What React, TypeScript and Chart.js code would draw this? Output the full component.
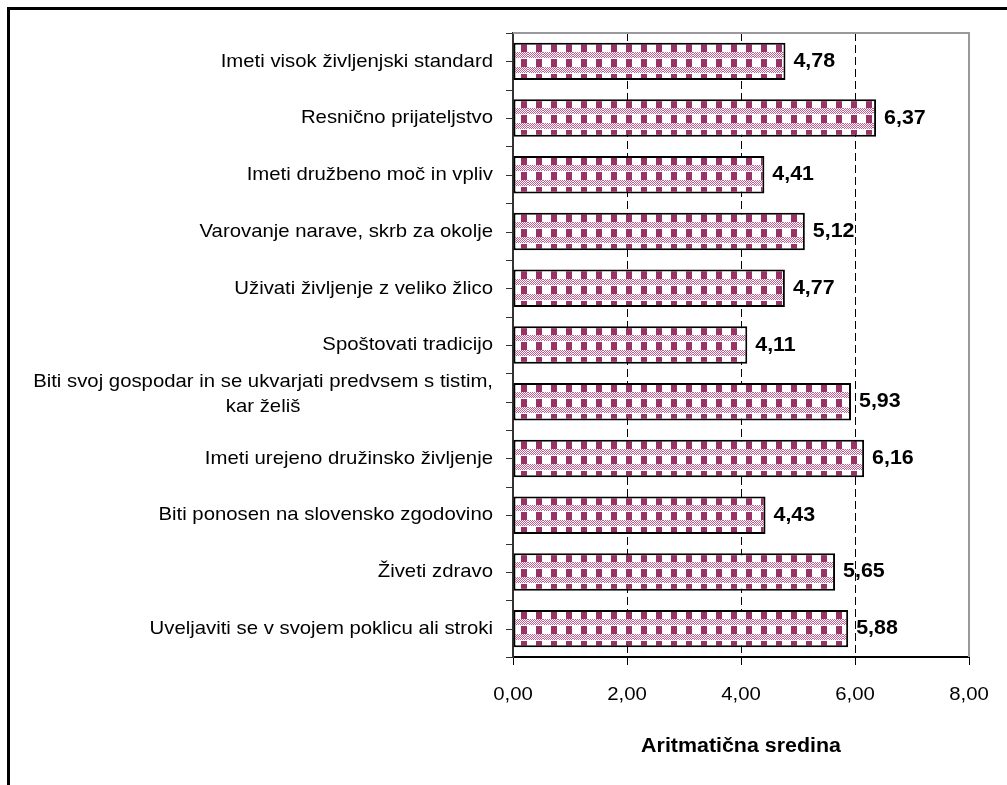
import React, { useEffect, useRef } from "react";
import { Chart, registerables } from "chart.js";

Chart.register(...registerables);

const categories: (string | string[])[] = [
  "Imeti visok življenjski standard",
  "Resnično prijateljstvo",
  "Imeti družbeno moč in vpliv",
  "Varovanje narave, skrb za okolje",
  "Uživati življenje z veliko žlico",
  "Spoštovati tradicijo",
  ["Biti svoj gospodar in se ukvarjati predvsem s tistim,", "kar želiš"],
  "Imeti urejeno družinsko življenje",
  "Biti ponosen na slovensko zgodovino",
  "Živeti zdravo",
  "Uveljaviti se v svojem poklicu ali stroki",
];

const values: number[] = [4.78, 6.37, 4.41, 5.12, 4.77, 4.11, 5.93, 6.16, 4.43, 5.65, 5.88];

const xMin = 0;
const xMax = 8;
const xStep = 2;
const axisTitle = "Aritmatična sredina";

const FONT = '"Liberation Sans", Arial, sans-serif';
const SX = 1.07;
const fmt = (v: number) => v.toFixed(2).replace(".", ",");

let tileCanvas: HTMLCanvasElement | null = null;
function getTile(): HTMLCanvasElement {
  if (tileCanvas) return tileCanvas;
  const c = document.createElement("canvas");
  c.width = 15;
  c.height = 15;
  const g = c.getContext("2d")!;
  g.fillStyle = "#ffffff";
  g.fillRect(0, 0, 15, 15);
  g.fillStyle = "#993366";
  g.fillRect(8, 0, 6, 8);
  for (let y = 8; y < 14; y++) {
    for (let x = 0; x < 15; x++) {
      g.fillStyle = (x + y) % 2 === 0 ? "#c45c8f" : "#ffffff";
      g.fillRect(x, y, 1, 1);
    }
  }
  tileCanvas = c;
  return c;
}

function drawText(ctx: CanvasRenderingContext2D, text: string, x: number, y: number, align: CanvasTextAlign) {
  ctx.save();
  ctx.translate(x, y);
  ctx.scale(SX, 1);
  ctx.textAlign = align;
  ctx.textBaseline = "middle";
  ctx.fillText(text, 0, 0);
  ctx.restore();
}

const decorPlugin = {
  id: "decor",
  beforeDraw(chart: any) {
    const { ctx, width, height } = chart;
    ctx.save();
    ctx.fillStyle = "#ffffff";
    ctx.fillRect(0, 0, width, height);
    ctx.restore();
  },
  afterDatasetsDraw(chart: any) {
    const { ctx, chartArea } = chart;
    const meta = chart.getDatasetMeta(0);
    ctx.save();
    ctx.strokeStyle = "#999999";
    ctx.lineWidth = 2;
    ctx.beginPath();
    ctx.moveTo(chartArea.left, chartArea.top);
    ctx.lineTo(chartArea.right, chartArea.top);
    ctx.lineTo(chartArea.right, chartArea.bottom);
    ctx.stroke();
    ctx.fillStyle = "#000000";
    ctx.font = `bold 20px ${FONT}`;
    meta.data.forEach((bar: any, i: number) => {
      drawText(ctx, fmt(values[i]), bar.x + 8, bar.y, "left");
    });
    ctx.restore();
  },
  afterDraw(chart: any) {
    const { ctx, chartArea } = chart;
    const yScale = chart.scales.y;
    const xScale = chart.scales.x;
    ctx.save();
    const n = categories.length;
    const step = (chartArea.bottom - chartArea.top) / (n * 2);
    ctx.strokeStyle = "#333333";
    ctx.lineWidth = 1;
    ctx.beginPath();
    for (let k = 0; k <= n * 2; k++) {
      const y = Math.round(chartArea.top + k * step) + 0.5;
      ctx.moveTo(chartArea.left - 7, y);
      ctx.lineTo(chartArea.left, y);
    }
    ctx.stroke();
    // y labels
    ctx.fillStyle = "#000000";
    ctx.font = `19px ${FONT}`;
    const rightEdge = chartArea.left - 20;
    categories.forEach((label, i) => {
      const y = yScale.getPixelForValue(i);
      if (Array.isArray(label)) {
        const w = Math.max(...label.map((l) => ctx.measureText(l).width)) * SX;
        const cx = rightEdge - w / 2;
        const lh = 25;
        label.forEach((l, k) => {
          drawText(ctx, l, cx, y - 7 + (k - (label.length - 1) / 2) * lh, "center");
        });
      } else {
        drawText(ctx, label, rightEdge, y, "right");
      }
    });
    // x tick labels
    for (let v = xMin; v <= xMax; v += xStep) {
      drawText(ctx, fmt(v), xScale.getPixelForValue(v), chartArea.bottom + 38, "center");
    }
    // axis title
    ctx.font = `bold 20px ${FONT}`;
    drawText(ctx, axisTitle, (chartArea.left + chartArea.right) / 2, chartArea.bottom + 89, "center");
    // outer frame
    ctx.fillStyle = "#000000";
    ctx.fillRect(7, 7, chart.width - 7, 3);
    ctx.fillRect(7, 7, 3, chart.height - 7);
    ctx.restore();
  },
};

export default function App() {
  const ref = useRef<HTMLCanvasElement | null>(null);
  useEffect(() => {
    const canvas = ref.current;
    if (!canvas) return;
    const ctx = canvas.getContext("2d");
    if (!ctx) return;
    const tile = getTile();
    const patternFor = (c: any) => {
      const chart = c.chart;
      const ys = chart.scales && chart.scales.y;
      const pat = chart.ctx.createPattern(tile, "repeat");
      if (!pat) return "#993366";
      if (ys && chart.chartArea) {
        const band = ys.getPixelForValue(1) - ys.getPixelForValue(0);
        const top = ys.getPixelForValue(c.dataIndex) - (band * 0.66) / 2 + 1;
        const left = chart.chartArea.left;
        try {
          pat.setTransform(new DOMMatrix().translate(left, Math.round(top)));
        } catch (e) {}
      }
      return pat;
    };
    const chart = new Chart(ctx, {
      type: "bar",
      data: {
        labels: categories.map((c) => (Array.isArray(c) ? c.join(" ") : c)),
        datasets: [
          {
            data: values,
            backgroundColor: patternFor as any,
            borderColor: "#000000",
            borderWidth: 2,
            borderSkipped: false,
            barPercentage: 0.66,
            categoryPercentage: 1,
          },
        ],
      },
      options: {
        indexAxis: "y",
        responsive: false,
        animation: false,
        events: [],
        layout: { padding: { left: 0, top: 33, right: 38, bottom: 0 } },
        plugins: {
          legend: { display: false },
          tooltip: { enabled: false },
          title: { display: false },
        },
        scales: {
          x: {
            type: "linear",
            min: xMin,
            max: xMax,
            ticks: {
              stepSize: xStep,
              display: false,
            },
            grid: {
              color: (c: any) => {
                const v = c.tick ? c.tick.value : null;
                return v === 2 || v === 4 || v === 6 ? "#000000" : "rgba(0,0,0,0)";
              },
              lineWidth: 1,
              tickLength: 8,
              tickColor: "#000000",
              drawTicks: true,
            },
            border: { display: true, color: "#000000", width: 2, dash: [8, 4] },
            title: { display: false },
            afterFit: (scale: any) => {
              scale.height = 128;
            },
          },
          y: {
            type: "category",
            ticks: { display: false },
            grid: { display: false },
            border: { display: true, color: "#333333", width: 2 },
            afterFit: (scale: any) => {
              scale.width = 513;
            },
          },
        },
      },
      plugins: [decorPlugin],
    });
    return () => chart.destroy();
  }, []);
  return (
    <div style={{ position: "absolute", left: 0, top: 0, width: 1007, height: 785 }}>
      <canvas ref={ref} width={1007} height={785} />
    </div>
  );
}
